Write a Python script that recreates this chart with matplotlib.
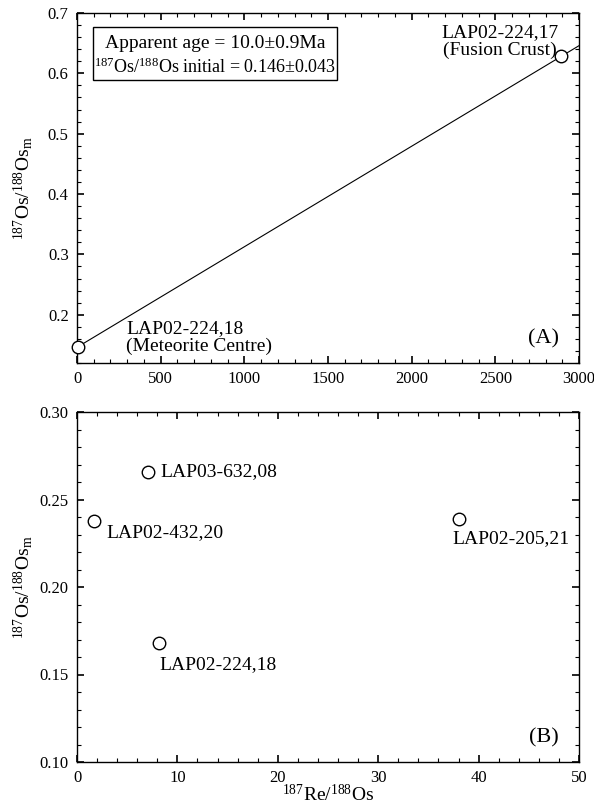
import numpy as np
import matplotlib
matplotlib.use("Agg")
import matplotlib.pyplot as plt
from matplotlib.ticker import MultipleLocator
from matplotlib.patches import Rectangle

plt.rcParams['font.family'] = ['Liberation Serif', 'DejaVu Serif']
plt.rcParams['mathtext.fontset'] = 'custom'
plt.rcParams['mathtext.rm'] = 'Liberation Serif'
plt.rcParams['mathtext.it'] = 'Liberation Serif:italic'

# panel A: meteorite centre and fusion crust
re_os_a = [8.2, 2890]
os_os_a = [0.147, 0.629]
labels_a = ['LAP02-224,18\n(Meteorite Centre)', 'LAP02-224,17\n(Fusion Crust)']
age_ma = 10.0
age_err = 0.9
os_initial = 0.146
os_initial_err = 0.043

# panel B: other samples
re_os_b = [1.7, 7.1, 8.2, 38.0]
os_os_b = [0.238, 0.266, 0.168, 0.239]
labels_b = ['LAP02-432,20', 'LAP03-632,08', 'LAP02-224,18', 'LAP02-205,21']

lam = 1.666e-11  # 187Re decay constant (1/yr)

W, H = 594, 810
fig = plt.figure(figsize=(W / 100, H / 100), dpi=100)
axA = fig.add_axes([77 / W, 1 - 363 / H, 502 / W, 350 / H])
axB = fig.add_axes([77 / W, 1 - 762 / H, 502 / W, 350 / H])

ylab = r'$^{187}$Os/$^{188}$Os$_{\rm m}$'
PM = '\u00b1'


def style(ax):
    ax.tick_params(which='both', direction='in', top=True, right=True,
                   labelsize=12, pad=6)
    ax.tick_params(which='major', length=5, width=1.2)
    ax.tick_params(which='minor', length=3, width=0.8)
    for s in ax.spines.values():
        s.set_linewidth(1.0)


# ---- panel A
slope = np.exp(lam * age_ma * 1e6) - 1
xs = np.array([0, 3000])
axA.plot(xs, os_initial + slope * xs, color='black', lw=0.8, zorder=2)
axA.plot(re_os_a, os_os_a, 'o', ms=9, mfc='white', mec='black', mew=1.0,
         zorder=3, clip_on=False)
axA.annotate(labels_a[0], (re_os_a[0], os_os_a[0]), xytext=(48, 9),
             textcoords='offset pixels', ha='left', va='center', fontsize=14,
             multialignment='left', linespacing=1.05)
axA.annotate(labels_a[1], (re_os_a[1], os_os_a[1]), xytext=(-2, 14),
             textcoords='offset pixels', ha='right', va='center', fontsize=14,
             multialignment='center', linespacing=1.05)

# result box
axA.add_patch(Rectangle((0.032, 0.809), 0.486, 0.151, transform=axA.transAxes,
                        fc='white', ec='black', lw=1.0, zorder=4))
axA.text(0.275, 0.913, 'Apparent age = %.1f%s%.1fMa' % (age_ma, PM, age_err),
         transform=axA.transAxes, ha='center', va='center', fontsize=14, zorder=5)
axA.text(0.275, 0.845, r'$^{187}$Os/$^{188}$Os initial = ' +
         '%.3f%s%.3f' % (os_initial, PM, os_initial_err),
         transform=axA.transAxes, ha='center', va='center', fontsize=13, zorder=5)

axA.text(0.93, 0.07, '(A)', transform=axA.transAxes, ha='center', va='center',
         fontsize=16)
axA.set_xlim(0, 3000)
axA.set_ylim(0.12, 0.7)
axA.xaxis.set_major_locator(MultipleLocator(500))
axA.xaxis.set_minor_locator(MultipleLocator(100))
axA.yaxis.set_major_locator(MultipleLocator(0.1))
axA.yaxis.set_minor_locator(MultipleLocator(0.02))
axA.set_ylabel(ylab, fontsize=14)
axA.yaxis.set_label_coords(-0.083, 0.5)
style(axA)

# ---- panel B
axB.plot(re_os_b, os_os_b, 'o', ms=9, mfc='white', mec='black', mew=1.0)
offs = [(12, -12), (12, 0), (0, -22), (-6, -20)]
for x, y, lab, off in zip(re_os_b, os_os_b, labels_b, offs):
    axB.annotate(lab, (x, y), xytext=off, textcoords='offset pixels',
                 ha='left', va='center', fontsize=14)
axB.text(0.93, 0.07, '(B)', transform=axB.transAxes, ha='center', va='center',
         fontsize=16)
axB.set_xlim(0, 50)
axB.set_ylim(0.10, 0.30)
axB.xaxis.set_major_locator(MultipleLocator(10))
axB.xaxis.set_minor_locator(MultipleLocator(2))
axB.yaxis.set_major_locator(MultipleLocator(0.05))
axB.yaxis.set_minor_locator(MultipleLocator(0.01))
axB.yaxis.set_major_formatter(plt.FormatStrFormatter('%.2f'))
axB.set_ylabel(ylab, fontsize=14)
axB.yaxis.set_label_coords(-0.083, 0.5)
axB.set_xlabel(r'$^{187}$Re/$^{188}$Os', fontsize=14)
axB.xaxis.set_label_coords(0.5, -0.062)
style(axB)

fig.savefig('out.png', dpi=100)
